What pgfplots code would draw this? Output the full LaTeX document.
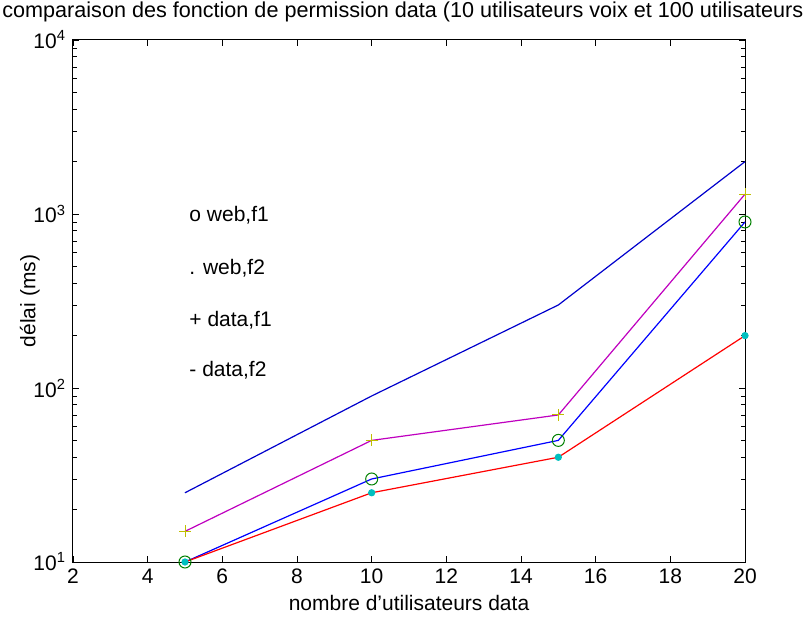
\documentclass[border=0pt]{standalone}
\usepackage{fontspec}
\setmainfont{Liberation Sans}
\usepackage{pgfplots}
\pgfplotsset{compat=1.18}

\definecolor{mgreen}{rgb}{0,0.5,0}
\definecolor{mcyan}{rgb}{0,0.75,0.75}
\definecolor{mmag}{rgb}{0.75,0,0.75}
\definecolor{myel}{rgb}{0.75,0.75,0}
\definecolor{dblue}{rgb}{0,0,0.8}

\begin{document}
\begin{tikzpicture}[font=\fontsize{10.5}{12}\selectfont]
\begin{axis}[
    scale only axis,
    width=336pt, height=261pt,
    ymode=log,
    xmin=2, xmax=20,
    ymin=10, ymax=10000,
    xtick={2,4,...,20},
    ytick={10,100,1000,10000},
    yticklabels={10\textsuperscript{1},10\textsuperscript{2},10\textsuperscript{3},10\textsuperscript{4}},
    /pgf/number format/assume math mode=true,
    tick align=inside,
    major tick length=3pt,
    minor tick length=1.8pt,
    axis line style={line width=0.5pt},
    every tick/.style={black, line width=0.4pt},
    xlabel={nombre d’utilisateurs data},
    ylabel={délai (ms)},
    xlabel style={yshift=1pt},
    ylabel style={yshift=-10pt},
    clip=false,
]
% o web,f1
\addplot[blue, line width=0.6pt, mark=o, mark size=3pt, mark options={mgreen, line width=0.5pt}]
  coordinates {(5,10) (10,30) (15,50) (20,900)};
% . web,f2
\addplot[red, line width=0.6pt, mark=*, mark size=1.5pt, mark options={mcyan}]
  coordinates {(5,10) (10,25) (15,40) (20,200)};
% + data,f1
\addplot[mmag, line width=0.6pt, mark=+, mark size=3pt, mark options={myel, line width=0.5pt}]
  coordinates {(5,15) (10,50) (15,70) (20,1300)};
% - data,f2
\addplot[dblue, line width=0.6pt]
  coordinates {(5,25) (10,90) (15,300) (20,2000)};

\node[anchor=west] at (axis cs:4.93,986) {o web,f1};
\node[anchor=west] at (axis cs:4.93,490) {. web,f2};
\node[anchor=west] at (axis cs:4.93,246) {+ data,f1};
\node[anchor=west] at (axis cs:4.93,127) {- data,f2};
\end{axis}
\node[anchor=west, inner sep=0pt, font=\fontsize{10.8}{12}\selectfont] at (-35.5pt,275pt) {comparaison des fonction de permission data (10 utilisateurs voix et 100 utilisateurs};
\pgfresetboundingbox
\path[use as bounding box] (-36.5pt,-30pt) rectangle (367pt,281pt);
\end{tikzpicture}
\end{document}
